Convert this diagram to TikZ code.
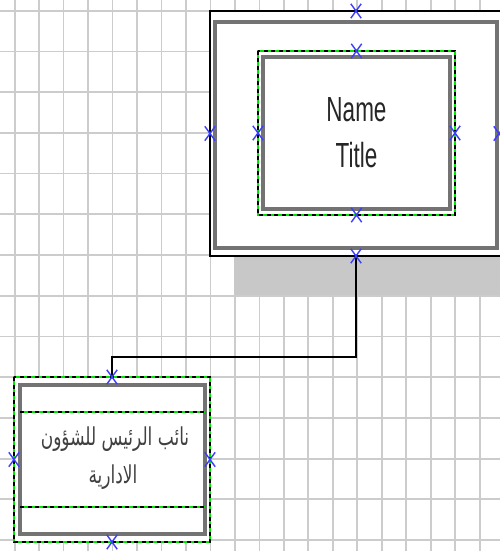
\documentclass[tikz,border=0pt]{standalone}
\usepackage{fontspec}
\setmainfont{Liberation Sans}
\newfontfamily\arabicfont[Script=Arabic]{DejaVu Sans}
\TeXXeTstate=1
\usetikzlibrary{shapes.misc,calc}
\definecolor{gridc}{RGB}{204,204,204}
\definecolor{shad}{RGB}{200,200,200}
\definecolor{framec}{RGB}{115,115,115}
\definecolor{selg}{RGB}{0,230,0}
\definecolor{mk}{RGB}{60,60,255}
\tikzset{
  gridline/.style={draw=gridc, line width=1.8},
  boxnode/.style={rectangle, inner sep=0, outer sep=0, fill=white},
  outerbox/.style={boxnode, draw=black, line width=2},
  framebox/.style={draw=framec, line width=3.2},
  selgreen/.style={draw=selg, line width=2.2},
  seldash/.style={draw=black, line width=2.2, dash pattern=on 4 off 3.5},
  xmark/.style={cross out, draw=mk, line width=1.4, minimum width=9, minimum height=13, inner sep=0},
  conn/.style={draw=black, line width=2},
  lbl/.style={text=black!85, align=center, inner sep=0}
}
\begin{document}
\begin{tikzpicture}[x=1pt,y=-1pt]
\useasboundingbox (0,0) rectangle (500,551);
\begin{scope}
\clip (0,0) rectangle (500,551);
% grid
\foreach \k in {0,...,19} { \draw[gridline] ({14.6+24.48*\k},0) -- ({14.6+24.48*\k},551); }
\foreach \k in {0,...,13} { \draw[gridline] (0,{10.7+40.72*\k}) -- (500,{10.7+40.72*\k}); }
% shadow
\fill[shad] (234,51) rectangle (526,295);
% outer box
\node[outerbox, minimum width=292, minimum height=245] (outer) at (356,133.5) {};
\draw[framebox] (215,22) rectangle (497,248);
% inner selected box
\node[boxnode, minimum width=197, minimum height=164] (inner) at (356.5,133) {};
\draw[selgreen] (inner.north west) rectangle (inner.south east);
\draw[seldash] (inner.north west) rectangle (inner.south east);
\draw[framebox] (263,57) rectangle (450,209);
\node[lbl, font=\fontsize{22.5}{22.5}\selectfont] (name) at (356.5,110) {\scalebox{1}[1.55]{Name}};
\node[lbl, font=\fontsize{22.5}{22.5}\selectfont] (title) at (356.5,155) {\scalebox{1}[1.55]{Title}};
% lower box
\node[boxnode, minimum width=196, minimum height=165] (lower) at (112,459.5) {};
\draw[framebox] (20,385) rectangle (205,534);
\fill[white] (18,412) rectangle (207,507);
\draw[framebox] (20,412) -- (20,507);
\draw[framebox] (205,412) -- (205,507);
\draw[selgreen] (lower.north west) rectangle (lower.south east);
\draw[seldash] (lower.north west) rectangle (lower.south east);
\draw[selgreen] (20,412) -- (205,412);
\draw[seldash] (20,412) -- (205,412);
\draw[selgreen] (20,507) -- (205,507);
\draw[seldash] (20,507) -- (205,507);
\node[lbl, text=black!75, font=\arabicfont\fontsize{17}{17}\selectfont] (ar1) at (115,439) {\scalebox{1}[1.45]{\beginR نائب الرئيس للشؤون\endR}};
\node[lbl, text=black!75, font=\arabicfont\fontsize{17}{17}\selectfont] (ar2) at (113,477) {\scalebox{1}[1.45]{\beginR الادارية\endR}};
% connector
\draw[conn] (outer.south) |- ($(lower.north)+(0,-20)$) -- (lower.north);
% markers
\node[xmark] (m1) at (outer.north) {};
\node[xmark] (m2) at (outer.west) {};
\node[xmark] (m3) at (499,133.5) {};
\node[xmark] (m4) at (outer.south) {};
\node[xmark] (m5) at (inner.north) {};
\node[xmark] (m6) at (inner.west) {};
\node[xmark] (m7) at (inner.east) {};
\node[xmark] (m8) at (inner.south) {};
\node[xmark] (m9) at (lower.north) {};
\node[xmark] (m10) at (lower.west) {};
\node[xmark] (m11) at (lower.east) {};
\node[xmark] (m12) at (lower.south) {};
\end{scope}
\end{tikzpicture}
\end{document}
